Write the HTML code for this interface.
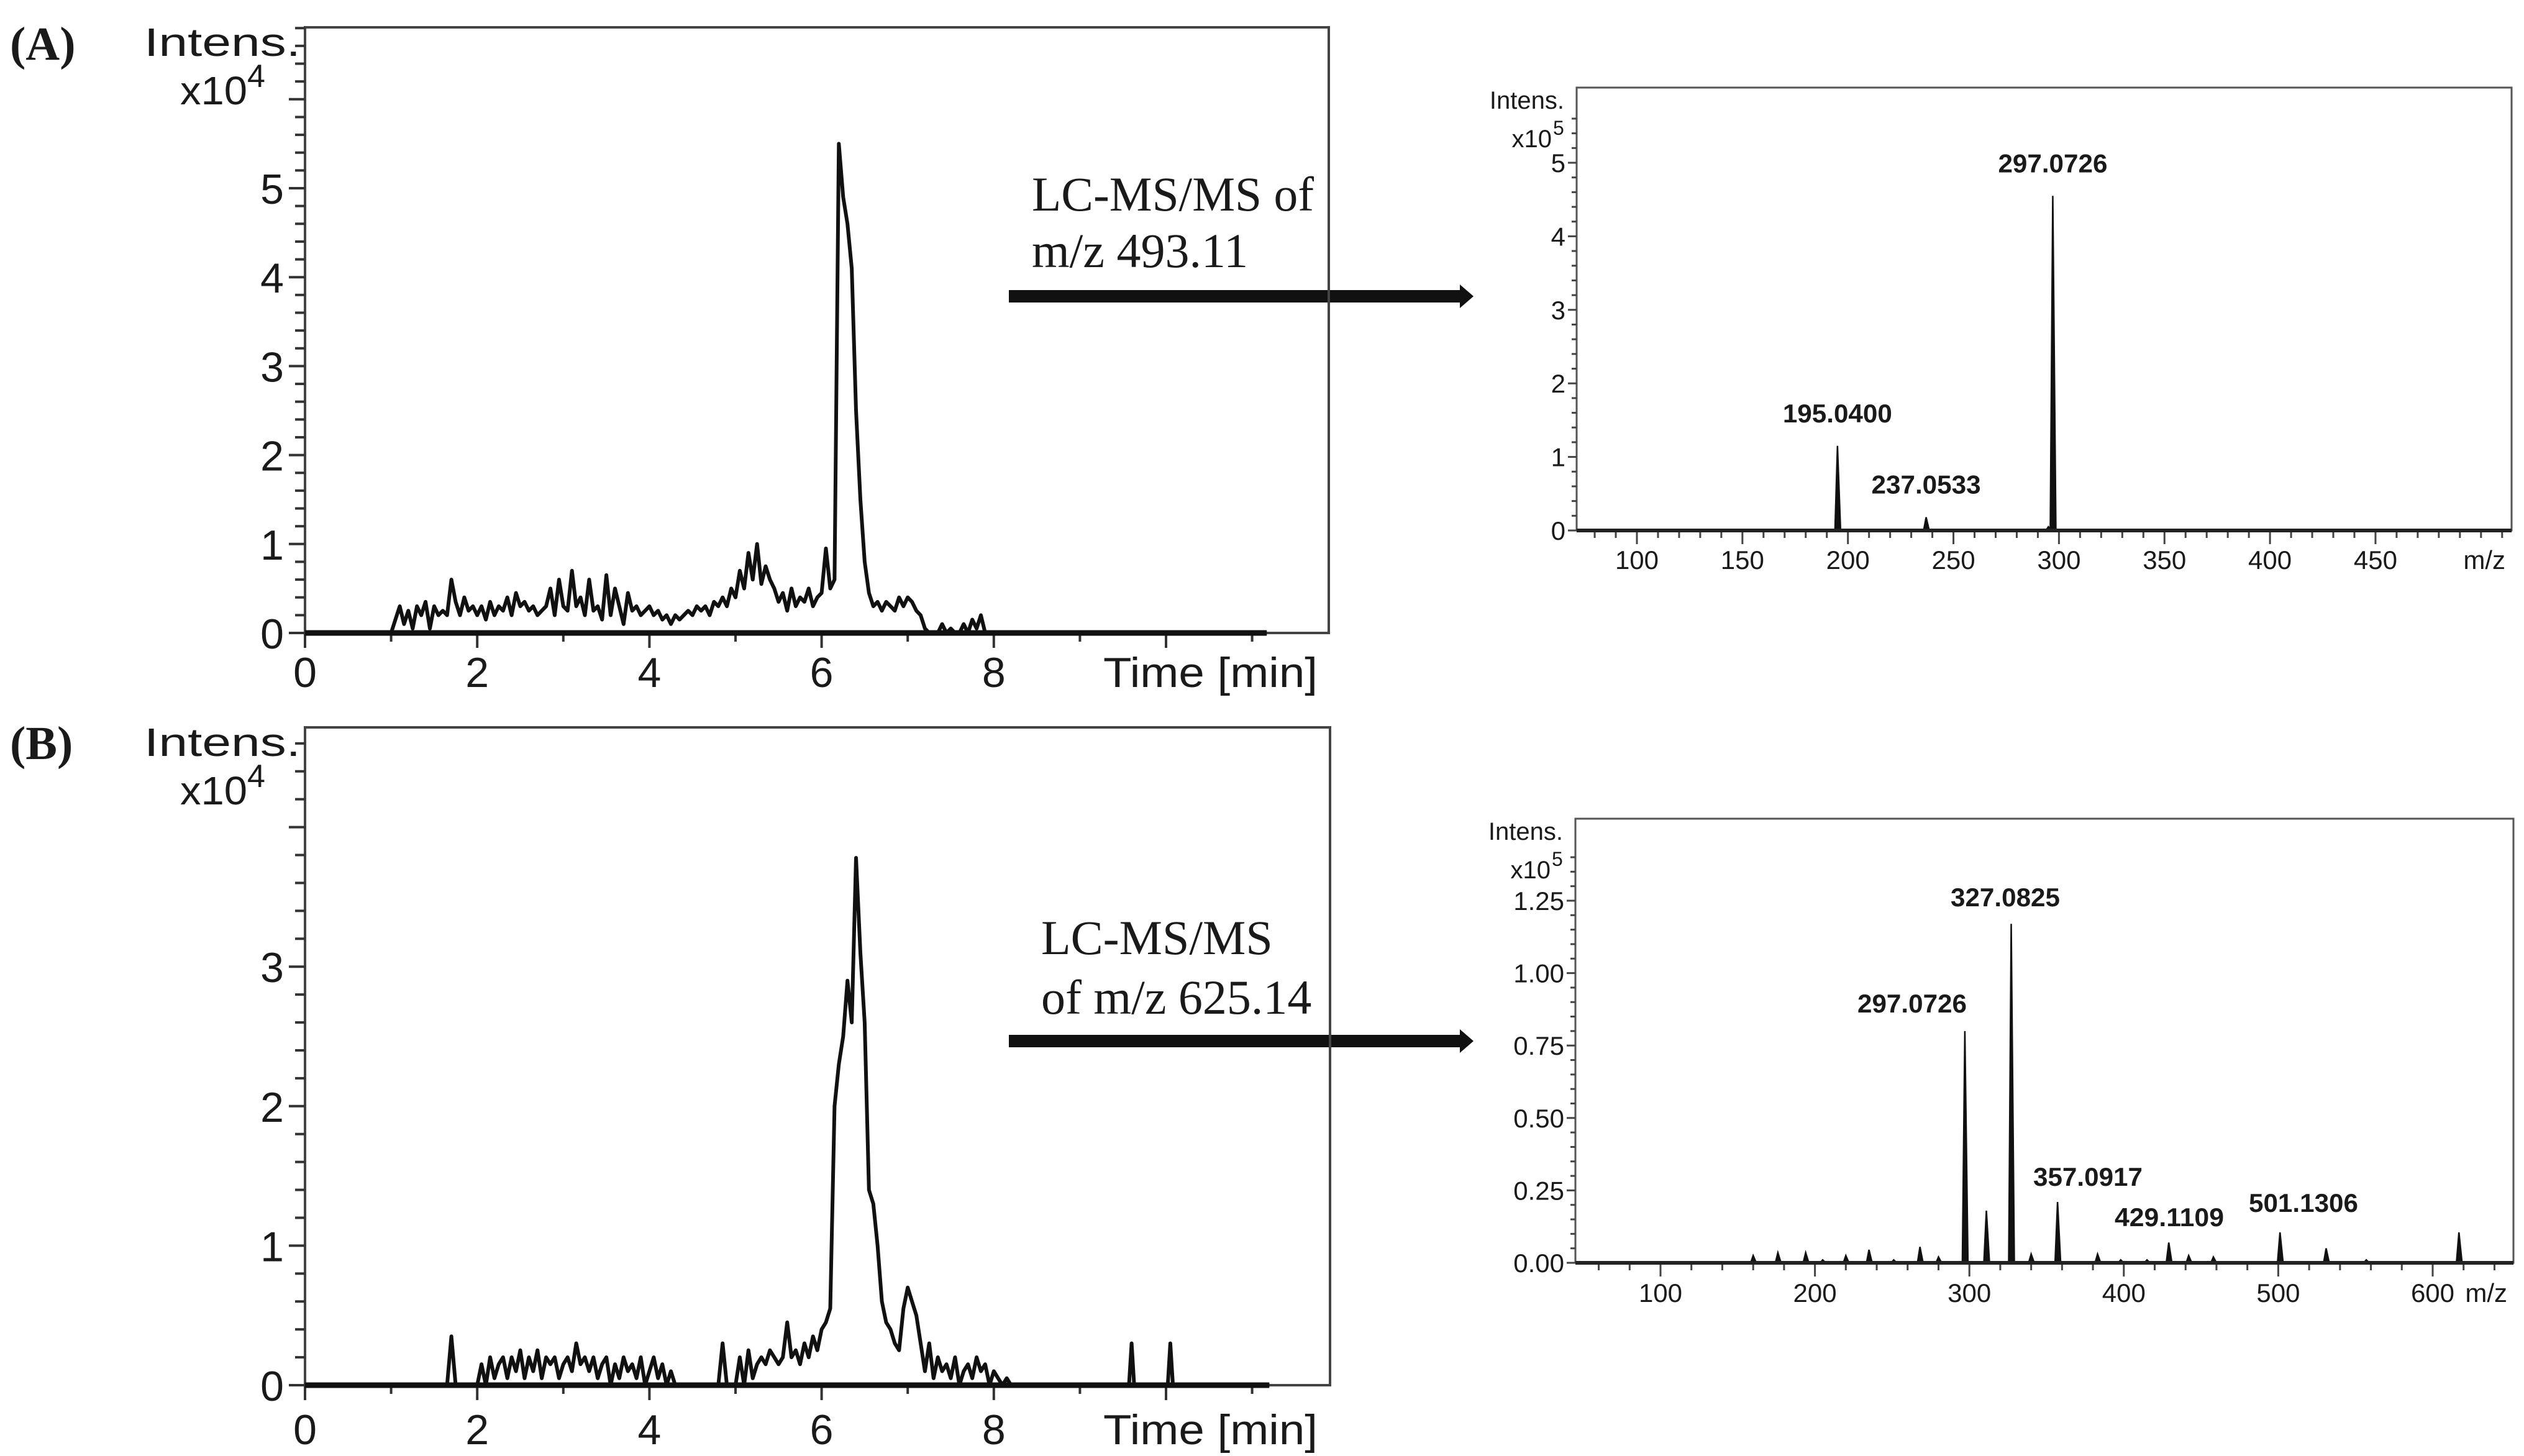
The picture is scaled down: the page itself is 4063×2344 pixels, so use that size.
<!DOCTYPE html>
<html><head><meta charset="utf-8"><style>
html,body{margin:0;padding:0;background:#fff;}
svg{display:block;}
text{font-family:"Liberation Sans",sans-serif;fill:#1a1a1a;}
.serif{font-family:"Liberation Serif",serif;}
.narrow{font-family:"Liberation Sans Narrow","Liberation Sans",sans-serif;}
</style></head><body>
<svg id="fig" xmlns="http://www.w3.org/2000/svg" width="4063" height="2344" viewBox="0 0 4063 2344">
<rect width="4063" height="2344" fill="#fff"/>
<text x="16" y="96" class="serif" font-size="76" font-weight="bold">(A)</text>
<text x="16" y="1222" class="serif" font-size="76" font-weight="bold">(B)</text>
<text x="1661" y="339" class="serif" font-size="78" textLength="454" lengthAdjust="spacingAndGlyphs">LC-MS/MS of</text>
<text x="1661" y="430" class="serif" font-size="78">m/z 493.11</text>
<text x="1676" y="1536" class="serif" font-size="78">LC-MS/MS</text>
<text x="1676" y="1632" class="serif" font-size="78">of m/z 625.14</text>
<g><rect x="1624" y="467" width="730" height="20" fill="#111"/><polygon points="2350,458 2372,477 2350,496" fill="#111"/></g>
<g><rect x="1624" y="1666" width="730" height="20" fill="#111"/><polygon points="2350,1657 2372,1676 2350,1695" fill="#111"/></g>
<g id="layer"></g>
</svg>
<script>
// ---- Chromatogram A data (x10^4), sampled every 0.05 min from 1.00 min ----
const chromA_start = 1.0;
const chromA_step = 0.05;
const chromA_values = [
0,0.15,0.3,0.1,0.25,0.05,0.3,0.2,0.35,0.05,0.3,0.2,0.25,0.2,
0.6,0.35,0.2,0.4,0.25,0.3,0.2,
0.3,0.15,0.35,0.2,0.3,0.25,0.4,0.2,0.45,0.3,0.35,0.25,0.3,0.2,0.25,0.3,0.5,0.2,0.6,0.3,
0.25,0.7,0.3,0.4,0.2,0.6,0.25,0.3,0.15,0.65,0.2,0.5,0.3,0.1,0.45,0.25,0.3,0.2,0.25,0.3,
0.2,0.25,0.15,0.2,0.1,0.2,0.15,0.2,0.25,0.2,0.3,0.25,0.3,0.2,0.35,0.3,0.4,0.3,0.5,0.4,
0.7,0.5,0.9,0.6,1.0,0.55,0.75,0.6,0.5,0.35,0.45,0.25,0.5,0.3,0.4,0.35,0.5,0.3,0.4,0.45,
0.95,0.5,0.6,5.5,4.9,4.6,4.1,2.5,1.5,0.8,
0.45,0.3,0.35,0.25,0.35,0.3,0.25,0.4,0.3,0.4,
0.35,0.25,0.2,0.05,0,0,0,0.1,0,0.05,0,0,0.1,0,0.15,0.05,0.2,0,0,0,0];
const chromA_end = 11.17;
const chromA_yTicks = [0,1,2,3,4,5];
// ---- Chromatogram B data (x10^4) ----
const chromB_start = 1.0;
const chromB_step = 0.05;
const chromB_values = [
0,0,0,0,0,0,0,0,0,0,0,0,0,0,0.35,0,0,0,0,0,0,
0.15,0,0.2,0.05,0.15,0.2,0.05,0.2,0.1,0.25,0.05,0.2,0.1,0.25,0.05,0.2,0.15,0.2,0.05,0.15,
0.2,0.1,0.3,0.15,0.2,0.1,0.2,0.05,0.15,0.2,0,0.15,0.05,0.2,0.1,0.15,0.05,0.2,0,0.1,
0.2,0.05,0.15,0,0.1,0,0,0,0,0,0,0,0,0,0,0,0.3,0,0,0,
0.2,0,0.25,0.05,0.15,0.2,0.15,0.25,0.2,0.15,0.2,0.45,0.2,0.25,0.15,0.3,0.2,0.35,0.25,0.4,
0.45,0.55,2.0,2.3,2.5,2.9,2.6,3.78,3.1,2.6,
1.4,1.3,1.0,0.6,0.45,0.4,0.3,0.25,0.55,0.7,
0.6,0.5,0.3,0.1,0.3,0.05,0.2,0.1,0.15,0.05,0.2,0,0.1,0.15,0.05,0.2,0.1,0.15,0,0.1,0.05,0,0.05,0,0,0,0];
const chromB_spikeTimes = [9.6,10.05];
const chromB_spikeValues = [0.3,0.3];
const chromB_end = 11.2;
const chromB_yTicks = [0,1,2,3];
const chrom_xTicks = [0,2,4,6,8];
// ---- MS/MS spectrum A (x10^5) ----
const msA_mz = [195.04,237.05,295.0,297.07];
const msA_int = [1.15,0.18,0.05,4.55];
const msA_labels = ["195.0400","237.0533","","297.0726"];
const msA_yTicks = [0,1,2,3,4,5];
const msA_xTicks = [100,150,200,250,300,350,400,450];
// ---- MS/MS spectrum B (x10^5) ----
const msB_mz = [160,176,194,205,220,235,251,268,280,297.07,311,327.08,340,357.09,383,398,415,429.11,442,458,501.13,531,557,617];
const msB_int = [0.025,0.035,0.035,0.01,0.025,0.045,0.01,0.055,0.02,0.80,0.18,1.17,0.03,0.21,0.03,0.01,0.01,0.07,0.025,0.02,0.105,0.05,0.01,0.105];
const msB_labels = ["297.0726","327.0825","357.0917","429.1109","501.1306"];
const msB_labelPos = [[3078,1630],[3228,1459],[3361,1909],[3492,1974],[3708,1951]];
const msB_yTicks = [0,0.25,0.5,0.75,1.0,1.25];
const msB_yTickLabels = ["0.00","0.25","0.50","0.75","1.00","1.25"];
const msB_xTicks = [100,200,300,400,500,600];

const NS="http://www.w3.org/2000/svg";
const layer=document.getElementById('layer');
function mk(tag,attrs,parent){const e=document.createElementNS(NS,tag);for(const k in attrs)e.setAttribute(k,attrs[k]);(parent||layer).appendChild(e);return e;}
function txt(x,y,s,size,anchor,parent,extra){const t=mk('text',Object.assign({x:x,y:y,'font-size':size,'text-anchor':anchor||'start'},extra||{}),parent);t.textContent=s;return t;}

function chrom(cfg){
  const g=mk('g',{});
  
  
  const X=v=>cfg.x0+v*cfg.px; const Y=v=>cfg.y0-v*cfg.py;
  const box=mk('rect',{x:cfg.x0,y:cfg.top,width:cfg.right-cfg.x0,height:cfg.y0-cfg.top,fill:'none',stroke:'#444','stroke-width':4},g);
  
  
  const ymax=(cfg.y0-cfg.top)/cfg.py;
  for(let v=0;v<=ymax+1e-6;v+=0.2){const major=Math.abs(v-Math.round(v))<1e-6;
    const t=mk('line',{x1:cfg.x0-(major?26:16),x2:cfg.x0,y1:Y(v),y2:Y(v),stroke:'#333','stroke-width':4},g);
    
    }
  cfg.yTicks.forEach(v=>{const t=txt(cfg.x0-34,Y(v)+25,String(v),68,'end',g);
    
    });
  for(let v=0;v<=11;v++){const t=mk('line',{x1:X(v),x2:X(v),y1:cfg.y0,y2:cfg.y0+(v%2?14:24),stroke:'#333','stroke-width':4},g);
    
    }
  chrom_xTicks.forEach(v=>{const t=txt(X(v),cfg.xLab,String(v),68,'middle',g);
    
    });
  const xt=txt(1776,cfg.xLab,'Time [min]',68,'start',g,{textLength:345,lengthAdjust:'spacingAndGlyphs'});
  
  
  const it=txt(232,cfg.top+46,'Intens.',64,'start',g,{textLength:252,lengthAdjust:'spacingAndGlyphs'});
  
  
  const ex=txt(290,cfg.top+124,'x10',64,'start',g,{textLength:108,lengthAdjust:'spacingAndGlyphs'});
  
  
  const sup=txt(398,cfg.top+96,'4',52,'start',g);
  
  
  let pts=[[0,0],[cfg.start,0]];
  cfg.values.forEach((v,i)=>pts.push([cfg.start+i*cfg.step,v]));
  (cfg.spikeT||[]).forEach((t,i)=>{pts.push([t-0.03,0],[t,cfg.spikeV[i]],[t+0.03,0]);});
  pts.push([cfg.end,0]);
  pts.sort((a,b)=>a[0]-b[0]);
  const d=pts.map((p,i)=>(i?'L':'M')+X(p[0]).toFixed(1)+' '+Y(p[1]).toFixed(1)).join(' ');
  const path=mk('path',{d:d,fill:'none',stroke:'#111','stroke-width':6,'stroke-linejoin':'round'},g);
  
  
  const base=mk('line',{x1:X(0),x2:X(cfg.end),y1:cfg.y0,y2:cfg.y0,stroke:'#111','stroke-width':9},g);
  
  
}
chrom({name:'chromatogram-a',x0:491,px:138.6,y0:1019,py:143.2,top:44,right:2139,yTicks:chromA_yTicks,xLab:1106,start:chromA_start,step:chromA_step,values:chromA_values,end:chromA_end});
chrom({name:'chromatogram-b',x0:491,px:138.6,y0:2230,py:224.6,top:1171,right:2141,yTicks:chromB_yTicks,xLab:2325,start:chromB_start,step:chromB_step,values:chromB_values,end:chromB_end,spikeT:chromB_spikeTimes,spikeV:chromB_spikeValues});

function ms(cfg){
  const g=mk('g',{});
  
  
  const X=v=>cfg.x0+(v-cfg.mz0)*cfg.px; const Y=v=>cfg.y0-v*cfg.py;
  const box=mk('rect',{x:cfg.left,y:cfg.top,width:cfg.right-cfg.left,height:cfg.y0-cfg.top,fill:'none',stroke:'#555','stroke-width':3},g);
  
  
  const ymax=(cfg.y0-cfg.top-40)/cfg.py;
  for(let v=0;v<=ymax+1e-6;v+=cfg.yMinor){const major=cfg.yTicks.some(t=>Math.abs(t-v)<1e-6);
    const t=mk('line',{x1:cfg.left-(major?14:8),x2:cfg.left,y1:Y(v),y2:Y(v),stroke:'#444','stroke-width':3},g);
    
    }
  cfg.yTicks.forEach((v,i)=>{const t=txt(cfg.left-18,Y(v)+15,cfg.yLabels[i],42,'end',g,{'class':'narrow'});
    
    });
  for(let v=Math.ceil(cfg.mzMin/cfg.xMinor)*cfg.xMinor;X(v)<cfg.right;v+=cfg.xMinor){const major=cfg.xTicks.indexOf(v)>=0;
    const t=mk('line',{x1:X(v),x2:X(v),y1:cfg.y0,y2:cfg.y0+(major?22:12),stroke:'#444','stroke-width':3},g);
    
    }
  cfg.xTicks.forEach(v=>{const t=txt(X(v),cfg.xLab,String(v),42,'middle',g,{'class':'narrow'});
    
    });
  const mz=txt(cfg.right-10,cfg.xLab,'m/z',42,'end',g,{'class':'narrow'});
  
  
  const it=txt(cfg.left-20,cfg.top+34,'Intens.',40,'end',g,{'class':'narrow'});
  
  
  const ex=txt(cfg.left-40,cfg.top+96,'x10',40,'end',g,{'class':'narrow'});
  
  
  const sp=txt(cfg.left-38,cfg.top+76,'5',32,'start',g,{'class':'narrow'});
  
  
  cfg.mzs.forEach((m,i)=>{const x=X(m);
    const p=mk('path',{d:`M${x-4} ${cfg.y0} L${x} ${Y(cfg.ints[i])} L${x+5} ${cfg.y0} Z`,fill:'#111',stroke:'#111','stroke-width':2.5},g);
    
    });
  const base=mk('line',{x1:cfg.left,x2:cfg.right,y1:cfg.y0,y2:cfg.y0,stroke:'#222','stroke-width':6},g);
  
  
  cfg.labels.forEach(l=>{if(!l.s)return;const t=txt(l.x,l.y,l.s,42,'middle',g,{'font-weight':'bold',textLength:176,lengthAdjust:'spacingAndGlyphs'});
    
    });
}
const labsA=msA_mz.map((m,i)=>({s:msA_labels[i],x:2635+(m-100)*3.397,y:854-msA_int[i]*118.4-38}));
ms({name:'spectrum-a',left:2538,right:4043,top:141,y0:854,x0:2635,mz0:100,px:3.397,py:118.4,mzMin:72,xMinor:10,yMinor:0.2,
  yTicks:msA_yTicks,yLabels:msA_yTicks.map(String),xTicks:msA_xTicks,xLab:916,mzs:msA_mz,ints:msA_int,labels:labsA});
const labsB=msB_labels.map((s,i)=>({s:s,x:msB_labelPos[i][0],y:msB_labelPos[i][1]}));
ms({name:'spectrum-b',left:2536,right:4046,top:1318,y0:2033,x0:2673,mz0:100,px:2.486,py:466.4,mzMin:46,xMinor:20,yMinor:0.05,
  yTicks:msB_yTicks,yLabels:msB_yTickLabels,xTicks:msB_xTicks,xLab:2096,mzs:msB_mz,ints:msB_int,labels:labsB});
</script>
</body></html>
